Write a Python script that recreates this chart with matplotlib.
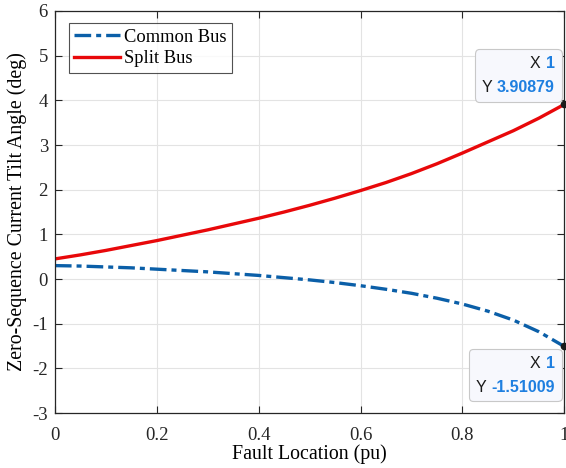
import matplotlib

matplotlib.use("Agg")
import matplotlib.pyplot as plt
from matplotlib.offsetbox import AnnotationBbox, HPacker, TextArea, VPacker

# Fault location sweep (pu) and the tilt angle of the zero-sequence current (deg)
fault_loc = [0.0, 0.05, 0.1, 0.15, 0.2, 0.25, 0.3, 0.35, 0.4, 0.45, 0.5,
             0.55, 0.6, 0.65, 0.7, 0.75, 0.8, 0.85, 0.9, 0.95, 1.0]
common_bus = [0.30, 0.29, 0.27, 0.25, 0.22, 0.19, 0.16, 0.12, 0.08, 0.03, -0.02,
              -0.08, -0.15, -0.23, -0.32, -0.43, -0.56, -0.72, -0.92, -1.18, -1.51009]
split_bus = [0.45, 0.54, 0.64, 0.75, 0.86, 0.98, 1.10, 1.23, 1.36, 1.50, 1.65,
             1.81, 1.98, 2.16, 2.36, 2.58, 2.82, 3.07, 3.32, 3.60, 3.90879]

x_ticks = [0, 0.2, 0.4, 0.6, 0.8, 1]
x_tick_labels = ["0", "0.2", "0.4", "0.6", "0.8", "1"]
y_ticks = [-3, -2, -1, 0, 1, 2, 3, 4, 5, 6]

plt.rcParams["font.family"] = ["Liberation Serif", "DejaVu Serif"]
plt.rcParams["axes.unicode_minus"] = False

fig = plt.figure(figsize=(5.66, 4.68), dpi=100)
ax = fig.add_axes([0.097, 0.1175, 0.9, 0.859])

ax.plot(fault_loc, common_bus, color="#0B5FA8", linestyle=(0, (5, 1.5, 1.5, 1.5)),
        linewidth=2.4, label="Common Bus")
ax.plot(fault_loc, split_bus, color="#E8080A", linewidth=2.4, label="Split Bus")

ax.set_xlim(0, 1)
ax.set_ylim(-3, 6)
ax.set_xticks(x_ticks)
ax.set_xticklabels(x_tick_labels)
ax.set_yticks(y_ticks)
ax.tick_params(direction="in", labelsize=13.5, length=5, width=0.8,
               top=True, right=True, colors="#262626")
ax.tick_params(axis="x", pad=10)
ax.tick_params(axis="y", pad=5)
ax.grid(True, color="#E3E3E3", linewidth=0.8)
ax.set_axisbelow(True)
for spine in ax.spines.values():
    spine.set_color("#262626")
    spine.set_linewidth(0.9)

ax.set_xlabel("Fault Location (pu)", fontsize=14.3, labelpad=0)
ax.set_ylabel("Zero-Sequence Current Tilt Angle (deg)", fontsize=14.3, labelpad=4)

leg = ax.legend(loc="upper left", bbox_to_anchor=(0.027, 0.97), fontsize=13.3,
                frameon=True, fancybox=False, handlelength=2.5, borderpad=0.3,
                labelspacing=0.25, handletextpad=0.2, borderaxespad=0)
leg.get_frame().set_edgecolor("#262626")
leg.get_frame().set_linewidth(0.8)

# Data tips at the end of each curve: black label, blue value
tip_font = ["Liberation Sans", "DejaVu Sans"]


def tip_line(name, value):
    key = TextArea(name + " ", textprops=dict(family=tip_font, fontsize=11.5, color="#1A1A1A"))
    val = TextArea(value, textprops=dict(family=tip_font, fontsize=11.5, color="#1E7FE0",
                                         weight="semibold"))
    return HPacker(children=[key, val], align="baseline", pad=0, sep=0)


for yv, box_align in [(split_bus[-1], (1.0, 0.0)), (common_bus[-1], (1.0, 1.0))]:
    xv = fault_loc[-1]
    ax.plot([xv], [yv], "o", color="#1A1A1A", markersize=4.5, clip_on=False, zorder=7)
    body = VPacker(children=[tip_line("X", f"{xv:g}"), tip_line("Y", f"{yv:.6g}")],
                   align="right", pad=0, sep=6)
    dy = 7 if box_align[1] == 0.0 else -7
    tip = AnnotationBbox(body, (xv, yv), xybox=(-7, dy), boxcoords="offset points",
                         box_alignment=box_align, frameon=True, pad=0,
                         annotation_clip=False, zorder=6,
                         bboxprops=dict(boxstyle="round,pad=0.5,rounding_size=0.3",
                                        facecolor="#F7F8FD", edgecolor="#C8C8C8",
                                        linewidth=0.8))
    ax.add_artist(tip)

fig.savefig("out.png", dpi=100)
